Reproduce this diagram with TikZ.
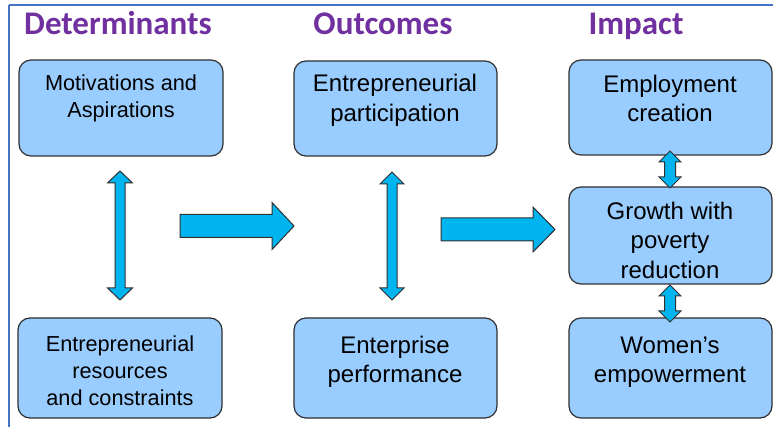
\documentclass[tikz,border=0pt]{standalone}
\usepackage{fontspec}
\setmainfont{Liberation Sans}
\newfontfamily\headfont{Carlito}
\definecolor{boxblue}{HTML}{99CCFF}
\definecolor{arrowblue}{HTML}{00B4F0}
\definecolor{headpurple}{HTML}{7030A0}
\definecolor{frameblue}{HTML}{4472C4}
\definecolor{edgegray}{HTML}{303030}
\newcommand\myvdarrow[6]{% x, ytop, ybottom, head half width, shaft half width, head length
  \path[blockarrow] (#1,#2) -- ({#1+#4},{#2+#6}) -- ({#1+#5},{#2+#6}) -- ({#1+#5},{#3-#6})
    -- ({#1+#4},{#3-#6}) -- (#1,#3) -- ({#1-#4},{#3-#6}) -- ({#1-#5},{#3-#6})
    -- ({#1-#5},{#2+#6}) -- ({#1-#4},{#2+#6}) -- cycle;}
\newcommand\myharrow[7]{% xleft, xheadbase, xtip, ycenter, shaft half, head half
  \path[blockarrow] (#1,{#4-#5}) -- (#2,{#4-#5}) -- (#2,{#4-#6}) -- (#3,#4)
    -- (#2,{#4+#6}) -- (#2,{#4+#5}) -- (#1,{#4+#5}) -- cycle;}
\begin{document}
\begin{tikzpicture}[x=1pt,y=-1pt,
  box/.style={draw=edgegray, line width=1.2pt, fill=boxblue, rounded corners=12pt},
  smalltxt/.style={align=center, font=\fontsize{21.7}{27}\selectfont, inner sep=0pt},
  bigtxt/.style={align=center, font=\fontsize{24}{29.5}\selectfont, inner sep=0pt},
  head/.style={font=\headfont\bfseries\fontsize{33}{36}\selectfont, text=headpurple, anchor=base, inner sep=0pt},
  blockarrow/.style={fill=arrowblue, draw=edgegray, line width=1pt, line join=miter}]
\path[fill=white,use as bounding box] (0,0) rectangle (773,427);
% frame lines
\draw[frameblue, line width=2pt] (9,5) -- (773,5);
\draw[frameblue, line width=2pt] (9,5) -- (9,427);
% headers
\node[head] (hdet) at (118,35) {Determinants};
\node[head] (hout) at (383,35) {Outcomes};
\node[head] (himp) at (636,35) {Impact};
% boxes
\draw[box] (19,60) rectangle (223,156);
\draw[box] (18,318) rectangle (222,418);
\draw[box] (294,61) rectangle (497,156);
\draw[box] (294,318) rectangle (497,418);
\draw[box] (569,60) rectangle (772,155);
\draw[box] (569,187) rectangle (772,284);
\draw[box] (569,318) rectangle (772,418);
% texts
\node[smalltxt] (mot) at (121,98) {Motivations and\\Aspirations};
\node[smalltxt] (res) at (120,371) {Entrepreneurial\\resources\\and constraints};
\node[bigtxt] (par) at (395,100.5) {Entrepreneurial\\participation};
\node[bigtxt] (per) at (395,362) {Enterprise\\performance};
\node[bigtxt] (emp) at (670,98.5) {Employment\\creation};
\node[bigtxt] (gro) at (670,240) {Growth with\\poverty\\reduction};
\node[bigtxt] (wom) at (670,362) {Women’s\\empowerment};
% vertical double arrows
\myvdarrow{120}{171}{300}{12.5}{5}{12}
\myvdarrow{392}{172}{300}{12}{5}{12}
\myvdarrow{670}{151}{188}{11}{5.5}{11}
\myvdarrow{670}{285}{322}{11}{5.5}{11}
% horizontal block arrows
\myharrow{180}{272}{294}{226}{11.5}{23.5}{}
\myharrow{441}{533}{555}{229.5}{11.5}{22.5}{}
\end{tikzpicture}
\end{document}
